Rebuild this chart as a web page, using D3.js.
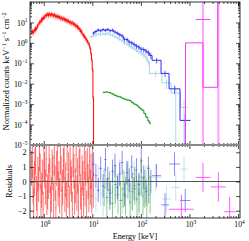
<!DOCTYPE html>
<html>
<head>
<meta charset="utf-8">
<script src="https://cdn.jsdelivr.net/npm/d3@7"></script>
<style>
  body { margin: 0; background: #fff; }
  svg { display: block; }
  text { font-family: "Liberation Serif", "Times New Roman", serif; fill: #000; }
</style>
</head>
<body>
<div id="chart"></div>
<script>
// ---- data ----
// red: low energy instrument
const redEdges = [0.55, 0.57, 0.59, 0.61, 0.63, 0.65, 0.67, 0.69, 0.72, 0.74,
  0.77, 0.80, 0.83, 0.86, 0.89, 0.92, 0.95, 0.99, 1.02, 1.06,
  1.10, 1.14, 1.18, 1.22, 1.27, 1.31, 1.36, 1.41, 1.46, 1.51,
  1.57, 1.62, 1.68, 1.74, 1.81, 1.87, 1.94, 2.01, 2.08, 2.16,
  2.24, 2.32, 2.40, 2.49, 2.58, 2.67, 2.77, 2.87, 2.97, 3.08,
  3.19, 3.31, 3.43, 3.55, 3.68, 3.81, 3.95, 4.09, 4.24, 4.39,
  4.55, 4.72, 4.89, 5.06, 5.25, 5.44, 5.63, 5.84, 6.05, 6.27,
  6.49, 6.73, 6.97, 7.22, 7.48, 7.75, 8.03, 8.32, 8.62, 8.93,
  9.25, 9.59, 9.93, 10.3, 10.6];
const redRate = [3.2, 3.9, 2.9, 3.6, 4.4, 3.8, 5.6, 4.7, 5.9, 7.6,
  8.1, 10.2, 11.5, 10.4, 15.5, 13.2, 17.8, 15.1, 19.5, 22.5,
  20.5, 24, 26.5, 21, 28, 24.5, 22, 27, 23, 24.5,
  20, 25, 22.5, 18.5, 21.5, 19.5, 17.5, 20.5, 18, 15.5,
  18, 16.5, 14, 15.5, 16, 12.5, 14.5, 13, 11, 13,
  12, 9.8, 11, 10.2, 8.8, 10, 9.2, 7.8, 8.6, 7.2,
  6.4, 7.3, 5.5, 5.9, 4.6, 4.9, 3.6, 4.0, 2.9, 2.7,
  2.2, 2.3, 1.7, 1.75, 1.35, 1.3, 0.98, 0.95, 0.68, 0.52,
  0.3, 0.15, 0.05, 0.002];
const redRelErr = 0.25;
const redResid = [0.9, 1.4, -0.3, -1.6, 0.2, 1.1, 1.7, -0.8, -1.2, 0.5,
  -0.2, 1.9, 0.7, -1.4, -0.6, 0.3, -1.9, 1.2, 0.8, -0.4,
  1.5, -1.1, -0.7, 0.0, 1.8, 0.4, -1.5, -0.9, 1.0, 0.6,
  -1.3, 1.6, -0.1, -1.8, 0.9, 1.3, -0.5, 0.2, -1.0, 1.7,
  0.5, -1.7, -0.4, 1.1, 1.4, -0.9, 0.1, -1.2, 1.9, -0.6,
  0.8, -1.5, 1.2, 0.3, -0.2, -1.9, 1.5, 0.7, -1.1, -0.3,
  1.8, -0.8, 0.4, -1.4, 1.0, 1.6, -0.7, -1.6, 0.6, 0.2,
  -1.2, 1.3, -0.5, 0.9, -1.8, 1.1, 0.0, -0.9, 1.4, -0.4,
  0.7, -1.0, 1.2, -0.6];
const redResErr = 1.2;

// blue
const blueEdges = [10, 11.2, 12.5, 14, 15.7, 17.6, 19.7, 22, 24.7, 27.6,
  31, 34.7, 38.8, 43.5, 48.7, 54.5, 61, 68.4, 76.6, 85.8,
  96, 108, 121, 135, 151, 170, 260, 380, 640, 1050];
const blueRate = [3.0, 3.6, 4.3, 3.9, 4.5, 4.1, 4.6, 3.9, 4.2, 3.4,
  3.0, 2.5, 2.2, 1.5, 1.45, 1.1, 1.0, 0.85, 0.7, 0.62,
  0.5, 0.47, 0.40, 0.33, 0.24, 0.14, 0.032, 0.0056, 0.00016];
const blueRelErr = [0.2, 0.2, 0.18, 0.18, 0.18, 0.18, 0.18, 0.18, 0.2, 0.2,
  0.2, 0.22, 0.22, 0.22, 0.24, 0.24, 0.25, 0.25, 0.26, 0.28,
  0.28, 0.3, 0.3, 0.3, 0.32, 0.3, 0.35, 0.45, 1.2];
const blueResid = [1.2, 0.4, -0.6, 0.9, -0.3, 1.5, 0.2, -0.8, 0.7, 1.1,
  -0.4, 0.5, 1.3, -0.9, 0.6, 0.1, 1.0, -0.5, 0.8, -0.2,
  1.4, 0.3, -0.7, 0.9, 0.0, 0.4, -1.6, 1.2, -1.3];
const blueResErr = 0.8;

// light blue
const cyanEdges = [9, 10, 11.2, 12.5, 14, 15.7, 17.6, 19.7, 22, 24.7,
  27.6, 31, 34.7, 38.8, 43.5, 48.7, 54.5, 61, 68.4, 76.6,
  85.8, 96, 108, 121, 135, 150, 270, 420, 650, 920];
const cyanRate = [2.0, 2.2, 2.4, 2.7, 2.5, 2.8, 2.6, 2.9, 2.5, 2.4,
  2.0, 1.8, 1.5, 1.3, 1.0, 0.9, 0.72, 0.62, 0.52, 0.44,
  0.36, 0.31, 0.26, 0.2, 0.12, 0.032, 0.011, 0.0035, 0.0007];
const cyanRelErr = [0.15, 0.15, 0.15, 0.15, 0.15, 0.15, 0.15, 0.15, 0.16, 0.16,
  0.16, 0.18, 0.18, 0.18, 0.2, 0.2, 0.2, 0.22, 0.22, 0.22,
  0.25, 0.25, 0.25, 0.3, 0.3, 0.35, 0.5, 1.2, 1.2];
const cyanResid = [-1.0, -0.3, -1.2, 0.2, -0.8, -1.5, 0.4, -0.6, -1.1, 0.1,
  -0.9, -0.4, 0.6, -1.3, -0.2, 0.3, -0.7, -1.0, 0.5, -0.5,
  -1.4, 0.0, -0.8, 0.2, -0.6, 0.3, -1.2, -0.4, 0.85];
const cyanResErr = 0.9;

// green
const greenEdges = [16.5, 18.6, 21.2, 24.3, 27.8, 31.7, 36.0, 40.5, 45.5, 51,
  57, 63.5, 71, 79, 87.5, 97, 106, 115, 126, 139, 150, 160];
const greenRate = [0.0038, 0.0039, 0.0037, 0.0032, 0.0027, 0.0024, 0.0022, 0.0019, 0.0017, 0.0016,
  0.0015, 0.0012, 0.001, 0.00089, 0.0007, 0.00058, 0.0005, 0.00035, 0.00023, 0.00015, 0.000115];
const greenRelErr = 0.1;
const greenResid = [-0.4, -1.1, -0.6, -1.5, -0.2, -0.9, -1.3, -0.5, -1.0, 0.1,
  -1.4, -0.7, -0.3, -1.2, -0.8, 0.3, -1.0, -0.5, -1.6, -0.2, -0.9];
const greenResErr = 1.3;

// magenta: wide high energy bins
const magentaLo = [380, 1340, 2780, 5100];
const magentaHi = [1230, 2700, 5600, 8900];
const magentaRate = [NaN, 14, 300, NaN];
const magentaErr = [NaN, 100, 1000, NaN];
const magentaResid = [-1.9, 0.28, -0.37, -2.07];
const magentaResErr = 1.0;
const magentaModelE = [830, 830, 1900, 3830];
const magentaModel = [1e-9, 1.0, 0.0067, 1000];

const xTickExp = [0, 1, 2, 3, 4];
const yTopTickExp = [1, 0, -1, -2, -3, -4, -5];
const yResTicks = [2, 1, 0, -1, -2];

// ---- layout ----
const W = 249, H = 241;
const plotL = 30, plotR = 240, topY = 2, sepY = 145, botY = 218;

const svg = d3.select("#chart").append("svg")
  .attr("width", W).attr("height", H);

const x = d3.scaleLog().domain([0.52, 1.1e4]).range([plotL, plotR]);
const yTop = d3.scaleLog().domain([1e-5, 100]).range([sepY, topY]).clamp(true);
const yRes = d3.scaleLinear().domain([-2.5, 2.5]).range([botY, sepY]);

const defs = svg.append("defs");
defs.append("clipPath").attr("id", "clipTop").append("rect")
  .attr("x", plotL).attr("y", topY).attr("width", plotR - plotL).attr("height", sepY - topY);
defs.append("clipPath").attr("id", "clipRes").append("rect")
  .attr("x", plotL).attr("y", sepY).attr("width", plotR - plotL).attr("height", botY - sepY);

const gTop = svg.append("g").attr("clip-path", "url(#clipTop)");
const gRes = svg.append("g").attr("clip-path", "url(#clipRes)");

function binSet(edges, rate, relErr, resid, resErr) {
  return rate.map((r, i) => ({
    lo: edges[i], hi: edges[i + 1], c: Math.sqrt(edges[i] * edges[i + 1]),
    r: r, e: r * (Array.isArray(relErr) ? relErr[i] : relErr),
    res: resid[i], resErr: resErr
  }));
}

const datasets = [
  { name: "cyan", bins: binSet(cyanEdges, cyanRate, cyanRelErr, cyanResid, cyanResErr),
    color: "#a6d6e8", errOpacity: 0.9, resOpacity: 0.7, tail: false },
  { name: "blue", bins: binSet(blueEdges, blueRate, blueRelErr, blueResid, blueResErr),
    color: "#2b2bf5", errOpacity: 0.7, resOpacity: 0.55, tail: false },
  { name: "green", bins: binSet(greenEdges, greenRate, greenRelErr, greenResid, greenResErr),
    color: "#1f961f", errOpacity: 0.7, resOpacity: 0.5, tail: false },
  { name: "red", bins: binSet(redEdges, redRate, redRelErr, redResid, redResErr),
    color: "#ff0000", errOpacity: 0.45, resOpacity: 0.55, tail: true }
];

const stepLine = d3.line()
  .x(d => x(d[0]))
  .y(d => yTop(Math.max(d[1], 1e-12)))
  .curve(d3.curveStepAfter);

datasets.forEach(ds => {
  const b = ds.bins;
  // error bars
  gTop.append("g").selectAll("line")
    .data(b).join("line")
    .attr("x1", d => x(d.c)).attr("x2", d => x(d.c))
    .attr("y1", d => yTop(Math.max(d.r - d.e, 1e-12)))
    .attr("y2", d => yTop(d.r + d.e))
    .attr("stroke", ds.color).attr("stroke-opacity", ds.errOpacity).attr("stroke-width", 1);
  // histogram
  const pts = b.map(d => [d.lo, d.r]);
  pts.push([b[b.length - 1].hi, b[b.length - 1].r]);
  if (ds.tail) pts.push([b[b.length - 1].hi, 1e-12]);
  gTop.append("path")
    .attr("d", stepLine(pts))
    .attr("fill", "none").attr("stroke", ds.color).attr("stroke-width", 1);

  // residuals
  const gr = gRes.append("g").attr("stroke", ds.color).attr("stroke-opacity", ds.resOpacity);
  gr.selectAll("line.v").data(b).join("line").attr("class", "v")
    .attr("x1", d => x(d.c)).attr("x2", d => x(d.c))
    .attr("y1", d => yRes(d.res - d.resErr)).attr("y2", d => yRes(d.res + d.resErr))
    .attr("stroke-width", 1);
  gr.selectAll("line.h").data(b).join("line").attr("class", "h")
    .attr("x1", d => x(d.lo)).attr("x2", d => x(d.hi))
    .attr("y1", d => yRes(d.res)).attr("y2", d => yRes(d.res))
    .attr("stroke-width", 1);
});

// magenta
const magBins = magentaLo.map((lo, i) => ({
  lo: lo, hi: magentaHi[i], c: Math.sqrt(lo * magentaHi[i]),
  r: magentaRate[i], e: magentaErr[i], res: magentaResid[i]
}));
const magTop = magBins.filter(d => !isNaN(d.r));
gTop.append("g").selectAll("line").data(magTop).join("line")
  .attr("x1", d => x(d.c)).attr("x2", d => x(d.c))
  .attr("y1", d => yTop(Math.max(d.r - d.e, 1e-12))).attr("y2", d => yTop(d.r + d.e))
  .attr("stroke", "#ffa6ff").attr("stroke-width", 2.2);
// bin bars only where the value lies inside the panel
gTop.append("g").selectAll("line").data(magTop.filter(d => d.r < yTop.domain()[1])).join("line")
  .attr("x1", d => x(d.lo)).attr("x2", d => x(d.hi))
  .attr("y1", d => yTop(d.r)).attr("y2", d => yTop(d.r))
  .attr("stroke", "#f03cf0").attr("stroke-width", 1);
gTop.append("path")
  .attr("d", stepLine(magentaModelE.map((e, i) => [e, magentaModel[i]])))
  .attr("fill", "none").attr("stroke", "#f03cf0").attr("stroke-width", 1);

const gm = gRes.append("g").attr("stroke", "#ff40ff").attr("stroke-opacity", 0.85);
gm.selectAll("line.v").data(magBins).join("line").attr("class", "v")
  .attr("x1", d => x(d.c)).attr("x2", d => x(d.c))
  .attr("y1", d => yRes(d.res - magentaResErr)).attr("y2", d => yRes(d.res + magentaResErr));
gm.selectAll("line.h").data(magBins).join("line").attr("class", "h")
  .attr("x1", d => x(d.lo)).attr("x2", d => x(d.hi))
  .attr("y1", d => yRes(d.res)).attr("y2", d => yRes(d.res));

// zero line
svg.append("line")
  .attr("x1", plotL).attr("x2", plotR).attr("y1", yRes(0)).attr("y2", yRes(0))
  .attr("stroke", "#555").attr("stroke-width", 1.2);

// ---- axes ----
const xMajor = xTickExp.map(p => Math.pow(10, p));
const xMinor = x.ticks().filter(v => !xMajor.includes(v));
const yMajor = yTopTickExp.map(p => Math.pow(10, p));
const yMinor = yTop.ticks().filter(v => !yMajor.some(m => Math.abs(m - v) / m < 1e-9));

function ticks(axis, values, len) {
  const g = svg.append("g")
    .call(axis.tickValues(values).tickSize(len).tickFormat(""));
  g.select(".domain").remove();
  g.selectAll(".tick line").attr("stroke", "#000").attr("stroke-width", 0.7);
  return g;
}

// top panel
ticks(d3.axisTop(x), xMajor, -4).attr("transform", `translate(0,${topY})`);
ticks(d3.axisTop(x), xMinor, -2).attr("transform", `translate(0,${topY})`);
ticks(d3.axisBottom(x), xMajor, -4).attr("transform", `translate(0,${sepY})`);
ticks(d3.axisBottom(x), xMinor, -2).attr("transform", `translate(0,${sepY})`);
ticks(d3.axisLeft(yTop), yMajor, -4).attr("transform", `translate(${plotL},0)`);
ticks(d3.axisLeft(yTop), yMinor, -2).attr("transform", `translate(${plotL},0)`);
ticks(d3.axisRight(yTop), yMajor, -4).attr("transform", `translate(${plotR},0)`);
ticks(d3.axisRight(yTop), yMinor, -2).attr("transform", `translate(${plotR},0)`);

// residual panel
ticks(d3.axisTop(x), xMajor, -4).attr("transform", `translate(0,${sepY})`);
ticks(d3.axisTop(x), xMinor, -2).attr("transform", `translate(0,${sepY})`);
ticks(d3.axisBottom(x), xMajor, -4).attr("transform", `translate(0,${botY})`);
ticks(d3.axisBottom(x), xMinor, -2).attr("transform", `translate(0,${botY})`);
ticks(d3.axisLeft(yRes), yResTicks, -4).attr("transform", `translate(${plotL},0)`);
ticks(d3.axisRight(yRes), yResTicks, -4).attr("transform", `translate(${plotR},0)`);

// frames and separator
svg.append("rect").attr("x", plotL).attr("y", topY)
  .attr("width", plotR - plotL).attr("height", botY - topY)
  .attr("fill", "none").attr("stroke", "#000").attr("stroke-width", 0.8);
svg.append("line").attr("x1", plotL).attr("x2", plotR).attr("y1", sepY).attr("y2", sepY)
  .attr("stroke", "#888").attr("stroke-width", 2);

// tick labels
function expText(sel, exp) {
  sel.append("tspan").text("10");
  sel.append("tspan").attr("dy", -3.4).attr("font-size", 5.4)
    .text(exp < 0 ? "\u2212" + (-exp) : String(exp));
}

svg.append("g").selectAll("text").data(xTickExp).join("text")
  .attr("x", d => x(Math.pow(10, d)) + 1.5).attr("y", 227.3)
  .attr("text-anchor", "middle").attr("font-size", 7.6)
  .each(function (d) { expText(d3.select(this), d); });

svg.append("g").selectAll("text").data(yTopTickExp).join("text")
  .attr("x", 27.5).attr("y", d => yTop(Math.pow(10, d)) + 3.2)
  .attr("text-anchor", "end").attr("font-size", 7.8)
  .each(function (d) { expText(d3.select(this), d); });

svg.append("g").selectAll("text").data(yResTicks).join("text")
  .attr("x", 26.5).attr("y", d => yRes(d) + 3)
  .attr("text-anchor", "end").attr("font-size", 8)
  .text(d => d < 0 ? "\u2212" + (-d) : String(d));

// axis titles
svg.append("text")
  .attr("x", (plotL + plotR) / 2).attr("y", 238.5)
  .attr("text-anchor", "middle").attr("font-size", 8.2)
  .text("Energy [keV]");

svg.append("text")
  .attr("transform", `translate(11.5,${(botY + sepY) / 2}) rotate(-90)`)
  .attr("text-anchor", "middle").attr("font-size", 8.5)
  .text("Residuals");

const yl = svg.append("text")
  .attr("transform", `translate(9,${(topY + sepY) / 2 - 2}) rotate(-90)`)
  .attr("text-anchor", "middle").attr("font-size", 8.5);
yl.append("tspan").text("Normalized counts keV");
yl.append("tspan").attr("dy", -3.5).attr("font-size", 6).text("\u22121");
yl.append("tspan").attr("dy", 3.5).text(" s");
yl.append("tspan").attr("dy", -3.5).attr("font-size", 6).text("\u22121");
yl.append("tspan").attr("dy", 3.5).text(" cm");
yl.append("tspan").attr("dy", -3.5).attr("font-size", 6).text("\u22122");
</script>
</body>
</html>
